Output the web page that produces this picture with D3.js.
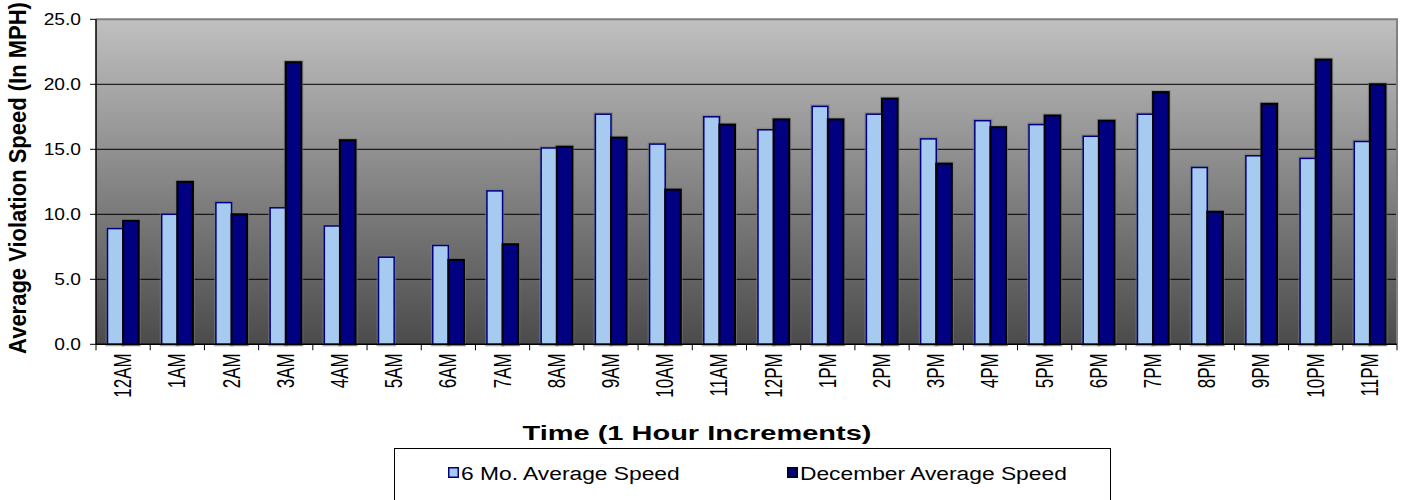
<!DOCTYPE html>
<html>
<head>
<meta charset="utf-8">
<script src="https://cdn.jsdelivr.net/npm/d3@7"></script>
<style>
  html, body { margin: 0; padding: 0; background: #ffffff; }
  svg { display: block; }
  text { font-family: "Liberation Sans", Arial, sans-serif; fill: #000; }
</style>
</head>
<body>
<svg id="chart" width="1401" height="500"></svg>
<script>
// Hourly categories
const hours = ["12AM","1AM","2AM","3AM","4AM","5AM","6AM","7AM","8AM","9AM","10AM","11AM",
               "12PM","1PM","2PM","3PM","4PM","5PM","6PM","7PM","8PM","9PM","10PM","11PM"];

// Average violation speed (MPH) per hour
const sixMonthAvg = [8.9, 10.0, 10.9, 10.5, 9.1, 6.7, 7.6, 11.8, 15.1, 17.7, 15.4, 17.5,
                     16.5, 18.3, 17.7, 15.8, 17.2, 16.9, 16.0, 17.7, 13.6, 14.5, 14.3, 15.6];
const decemberAvg = [9.5, 12.5, 10.0, 21.7, 15.7, 0, 6.5, 7.7, 15.2, 15.9, 11.9, 16.9,
                     17.3, 17.3, 18.9, 13.9, 16.7, 17.6, 17.2, 19.4, 10.2, 18.5, 21.9, 20.0];

const seriesNames = ["6 Mo. Average Speed", "December Average Speed"];
const yTicks = [0, 5, 10, 15, 20, 25];

const seriesStyle = [
  { fill: "#a6caf0", stroke: "#000080", sw: 1.5 },
  { fill: "#000080", stroke: "#000000", sw: 2 }
];

const svg = d3.select("#chart");
const plot = { left: 96, right: 1397, top: 19.3, bottom: 344.3 };

const x0 = d3.scaleBand().domain(hours).range([plot.left, plot.right]).paddingInner(0).paddingOuter(0);
const x1 = d3.scaleBand().domain([0, 1]).range([0, x0.bandwidth()]).paddingInner(0).paddingOuter(0.737);
const y = d3.scaleLinear().domain([0, 25]).range([plot.bottom, plot.top]);

// Plot background gradient
const defs = svg.append("defs");
const grad = defs.append("linearGradient").attr("id", "bg").attr("x1", 0).attr("y1", 0).attr("x2", 0).attr("y2", 1);
grad.append("stop").attr("offset", "0%").attr("stop-color", "#c0c0c0");
grad.append("stop").attr("offset", "100%").attr("stop-color", "#4b4b4b");

svg.append("rect")
  .attr("x", plot.left).attr("y", plot.top)
  .attr("width", plot.right - plot.left).attr("height", plot.bottom - plot.top)
  .attr("fill", "url(#bg)");

// Gridlines
svg.append("g").selectAll("line")
  .data(yTicks.filter(t => t > 0 && t < 25))
  .join("line")
  .attr("x1", plot.left).attr("x2", plot.right)
  .attr("y1", d => y(d)).attr("y2", d => y(d))
  .attr("stroke", "#000").attr("stroke-width", 1);

// Plot frame: top and right in gray
svg.append("path")
  .attr("d", `M${plot.left},${plot.top}H${plot.right}V${plot.bottom}`)
  .attr("fill", "none").attr("stroke", "#808080").attr("stroke-width", 2);

// Bars
const groups = svg.append("g").selectAll("g")
  .data(hours)
  .join("g")
  .attr("transform", d => `translate(${x0(d)},0)`);

const barData = (d, i) => [sixMonthAvg[i], decemberAvg[i]].map((v, s) => ({ v, s })).filter(o => o.v > 0);

// soft gray halo around each bar
groups.selectAll("rect.halo")
  .data(barData)
  .join("rect").attr("class", "halo")
  .attr("x", d => x1(d.s))
  .attr("y", d => y(d.v))
  .attr("width", x1.bandwidth())
  .attr("height", d => y(0) - y(d.v))
  .attr("fill", "none")
  .attr("stroke", "#7a7a7a").attr("stroke-opacity", 0.6)
  .attr("stroke-width", 4);

groups.selectAll("rect.bar")
  .data(barData)
  .join("rect").attr("class", "bar")
  .attr("x", d => x1(d.s))
  .attr("y", d => y(d.v))
  .attr("width", x1.bandwidth())
  .attr("height", d => y(0) - y(d.v))
  .attr("fill", d => seriesStyle[d.s].fill)
  .attr("stroke", d => seriesStyle[d.s].stroke)
  .attr("stroke-width", d => seriesStyle[d.s].sw);

// Y axis
const yAxis = svg.append("g").attr("transform", `translate(${plot.left},0)`);
yAxis.append("line").attr("x1", 0).attr("x2", 0).attr("y1", plot.top).attr("y2", plot.bottom)
  .attr("stroke", "#000").attr("stroke-width", 1.5);
yAxis.selectAll("line.tick").data(yTicks).join("line").attr("class", "tick")
  .attr("x1", -6).attr("x2", 0).attr("y1", d => y(d)).attr("y2", d => y(d))
  .attr("stroke", "#000").attr("stroke-width", 1);
yAxis.selectAll("text").data(yTicks).join("text")
  .attr("transform", d => `translate(-15,${y(d) + 5.8}) scale(1.2,1)`)
  .attr("text-anchor", "end")
  .style("font-size", "16px")
  .text(d => d3.format(".1f")(d));

// X axis
const xAxis = svg.append("g");
xAxis.append("line").attr("x1", plot.left).attr("x2", plot.right).attr("y1", plot.bottom).attr("y2", plot.bottom)
  .attr("stroke", "#000").attr("stroke-width", 1.5);
const bounds = hours.map(h => x0(h)).concat([plot.right]);
xAxis.selectAll("line.tick").data(bounds).join("line").attr("class", "tick")
  .attr("x1", d => d).attr("x2", d => d).attr("y1", plot.bottom).attr("y2", plot.bottom + 6)
  .attr("stroke", "#000").attr("stroke-width", 1);
xAxis.selectAll("text").data(hours).join("text")
  .attr("transform", d => `translate(${x0(d) + x0.bandwidth() / 2 + 8},${plot.bottom + 9}) scale(1.4,1) rotate(-90)`)
  .attr("text-anchor", "end")
  .style("font-size", "17px")
  .text(d => d);

// Axis titles
svg.append("text")
  .attr("transform", `translate(697,440) scale(1.45,1)`)
  .attr("text-anchor", "middle")
  .style("font-size", "20px").style("font-weight", "bold")
  .text("Time (1 Hour Increments)");

svg.append("text")
  .attr("transform", `translate(26,178) scale(1.1,1) rotate(-90)`)
  .attr("text-anchor", "middle")
  .style("font-size", "22px").style("font-weight", "bold")
  .text("Average Violation Speed (In MPH)");

// Legend
const legend = svg.append("g");
legend.append("rect").attr("x", 394.5).attr("y", 448.5).attr("width", 716).attr("height", 70)
  .attr("fill", "#fff").attr("stroke", "#000").attr("stroke-width", 1);
const legendX = [448, 787];
seriesNames.forEach((name, i) => {
  legend.append("rect").attr("x", legendX[i] + 0.75).attr("y", 467.75).attr("width", 9.5).attr("height", 9.5)
    .attr("fill", seriesStyle[i].fill).attr("stroke", seriesStyle[i].stroke).attr("stroke-width", 1.5);
  legend.append("text")
    .attr("transform", `translate(${legendX[i] + 13},480) scale(1.2,1)`)
    .style("font-size", "19px")
    .text(name);
});
</script>
</body>
</html>
